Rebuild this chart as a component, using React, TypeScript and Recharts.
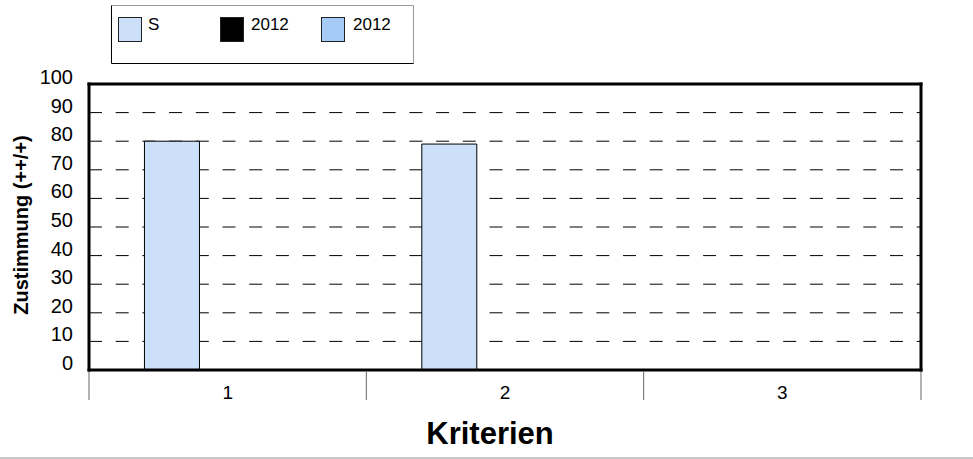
import React from 'react';
import { BarChart, Bar, XAxis, YAxis, CartesianGrid, Legend } from 'recharts';

const categories = ['1', '2', '3'];
const sValues: (number | null)[] = [80, 79, null];
const black2012Values: (number | null)[] = [null, null, null];
const blue2012Values: (number | null)[] = [null, null, null];
const yTicks = [0, 10, 20, 30, 40, 50, 60, 70, 80, 90, 100];
const seriesKeys = ['s', 'y2012a', 'y2012b'];
const seriesNames = ['S', '2012', '2012'];

const data = categories.map((c, i) => ({
  cat: c,
  s: sValues[i],
  y2012a: black2012Values[i],
  y2012b: blue2012Values[i],
}));

const FONT = '"Liberation Sans", Arial, sans-serif';
const BORDER = { stroke: '#000', strokeWidth: 3, strokeLinecap: 'square' as const };

const YTick = (props: any) => {
  const { x, y, payload } = props;
  return (
    <text x={x} y={y - 7} textAnchor="end" dominantBaseline="central" fontSize={20} fontFamily={FONT} fill="#000">
      {payload.value}
    </text>
  );
};

const XTick = (props: any) => {
  const { x, y, payload, index, visibleTicksCount, width } = props;
  const count = visibleTicksCount || categories.length;
  const band = (typeof width === 'number' && width > 0 ? width : 832) / count;
  const left = x - band / 2;
  const right = x + band / 2;
  return (
    <g>
      <line x1={left} y1={y + 2} x2={left} y2={y + 30} stroke="#666" strokeWidth={1} />
      {index === count - 1 && (
        <line x1={right} y1={y + 2} x2={right} y2={y + 30} stroke="#666" strokeWidth={1} />
      )}
      <text x={x} y={y + 29} textAnchor="middle" fontSize={19} fontFamily={FONT} fill="#000">
        {payload.value}
      </text>
    </g>
  );
};

const YLabel = (props: any) => {
  const vb = props.viewBox || { x: 0, y: 84, width: 89, height: 286 };
  const cx = vb.x + 28;
  const cy = vb.y + vb.height / 2 - 2;
  return (
    <text
      x={cx}
      y={cy}
      transform={`rotate(-90, ${cx}, ${cy})`}
      textAnchor="middle"
      fontSize={20}
      fontWeight="bold"
      fontFamily={FONT}
      fill="#000"
    >
      Zustimmung (++/+)
    </text>
  );
};

const XLabel = (props: any) => {
  const vb = props.viewBox || { x: 89, y: 370, width: 832, height: 0 };
  return (
    <text
      x={vb.x + vb.width / 2 - 15}
      y={vb.y + 74}
      textAnchor="middle"
      fontSize={31}
      fontWeight="bold"
      fontFamily={FONT}
      fill="#000"
    >
      Kriterien
    </text>
  );
};

const LegendBox = (props: any) => {
  const payload = [...(props.payload || [])].sort(
    (a: any, b: any) => seriesKeys.indexOf(a.dataKey) - seriesKeys.indexOf(b.dataKey)
  );
  const squareX = [7.5, 109.5, 210.5];
  const textX = [37, 140, 242];
  return (
    <svg width={303} height={60} style={{ display: 'block' }}>
      <line x1={0.5} y1={0.5} x2={302.5} y2={0.5} stroke="#999" strokeWidth={1} />
      <line x1={302.5} y1={0.5} x2={302.5} y2={58.5} stroke="#999" strokeWidth={1} />
      <line x1={0.5} y1={0.5} x2={0.5} y2={58.5} stroke="#000" strokeWidth={1} />
      <line x1={0.5} y1={58.5} x2={302.5} y2={58.5} stroke="#000" strokeWidth={1} />
      {payload.map((entry: any, i: number) => (
        <g key={i}>
          <rect
            x={squareX[i]}
            y={12.5}
            width={23}
            height={24}
            fill={entry.color}
            stroke="#222"
            strokeWidth={1}
          />
          <text x={textX[i]} y={25} fontSize={17} fontFamily={FONT} fill="#000">
            {entry.value}
          </text>
        </g>
      ))}
    </svg>
  );
};

export default function App() {
  return (
    <div style={{ position: 'absolute', left: 0, top: 0, width: 973, height: 459, background: '#fff' }}>
      <BarChart
        width={973}
        height={459}
        data={data}
        margin={{ top: 83, right: 51, bottom: 88, left: 0 }}
        barCategoryGap="20%"
        barGap={0}
      >
        <CartesianGrid
          vertical={false}
          stroke="#000"
          strokeDasharray="13 13.7"
        />
        <XAxis
          dataKey="cat"
          height={1}
          interval={0}
          tickSize={0}
          tickMargin={0}
          tickLine={false}
          axisLine={BORDER}
          tick={XTick}
          label={{ content: XLabel }}
        />
        <XAxis
          xAxisId="top"
          orientation="top"
          height={1}
          tick={false}
          tickLine={false}
          axisLine={BORDER}
        />
        <YAxis
          width={89}
          domain={[0, 100]}
          ticks={yTicks}
          interval={0}
          tickSize={0}
          tickMargin={16}
          tickLine={false}
          axisLine={BORDER}
          tick={YTick}
          label={{ content: YLabel }}
        />
        <YAxis
          yAxisId="right"
          orientation="right"
          width={1}
          domain={[0, 100]}
          tick={false}
          tickLine={false}
          axisLine={BORDER}
        />
        <Legend
          layout="vertical"
          align="center"
          verticalAlign="middle"
          wrapperStyle={{ left: 111, top: 5, width: 303, height: 60 }}
          content={LegendBox}
        />
        <Bar dataKey="s" name={seriesNames[0]} fill="#CCE0FA" stroke="#000" strokeWidth={1} isAnimationActive={false} />
        <Bar dataKey="y2012a" name={seriesNames[1]} fill="#000000" stroke="#000" strokeWidth={1} isAnimationActive={false} />
        <Bar dataKey="y2012b" name={seriesNames[2]} fill="#A6CBF8" stroke="#000" strokeWidth={1} isAnimationActive={false} />
      </BarChart>
      <div style={{ position: 'absolute', left: 0, top: 457, width: 973, height: 2, background: '#c8c8c8' }} />
    </div>
  );
}
